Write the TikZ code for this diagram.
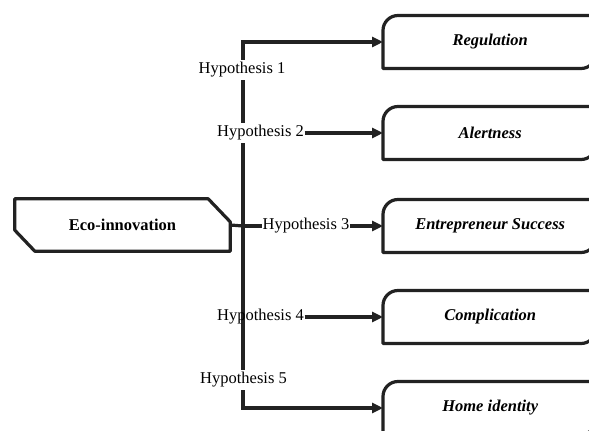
\documentclass[tikz,border=0pt]{standalone}
\usepackage{fontspec}
\setmainfont{Liberation Serif}
\usetikzlibrary{arrows.meta}
\definecolor{ink}{HTML}{222222}
\tikzset{
  boxline/.style={draw=ink, line width=3.2pt, line join=round},
  conn/.style={draw=ink, line width=3.2pt},
  arr/.style={conn, -{Triangle[length=11pt,width=10pt]}},
  outtext/.style={inner sep=0pt, minimum width=214pt, minimum height=53pt,
    font=\fontsize{16.5}{18}\selectfont\bfseries\itshape, text=black},
  hyp/.style={inner sep=0.6pt, font=\fontsize{16.5}{18}\selectfont, text=black},
  hypw/.style={hyp, fill=white, inner ysep=2pt},
}
\newcommand\outbox[3]{%
  \draw[boxline] (383,#2-26.5) -- (383,#2+11.5) arc[start angle=180,end angle=90,radius=15]
    -- (596,#2+26.5) -- (596,#2-11.5) arc[start angle=0,end angle=-90,radius=15] -- cycle;
  \node[outtext, anchor=west] (#1) at (383,#2) {#3};}
\begin{document}
\begin{tikzpicture}[x=1pt,y=1pt]
\useasboundingbox (0,0) rectangle (589,431);
\clip (0,0) rectangle (589,431);
\fill[white] (0,0) rectangle (589,431);
% left box
\node[inner sep=0pt, minimum width=215pt, minimum height=52pt,
  font=\fontsize{16.5}{18}\selectfont\bfseries] (eco) at (122.5,206) {Eco-innovation};
\draw[boxline] (eco.north west) -- ([xshift=-22pt]eco.north east) -- ([yshift=-23pt]eco.north east)
  -- (eco.south east) -- ([xshift=20pt]eco.south west) -- ([yshift=21pt]eco.south west) -- cycle;
% right boxes
\outbox{reg}{389}{Regulation}
\outbox{ale}{298}{Alertness}
\outbox{ent}{205}{Entrepreneur Success}
\outbox{com}{114}{Complication}
\outbox{hom}{23}{Home identity}
% trunk
\coordinate (top) at (243,389);
\coordinate (bot) at (243,23);
\draw[conn, line cap=butt] (top) -- (bot);
\draw[conn] (eco.east) -- (243,205);
% labels
\node[hypw] (h1) at (242,361) {Hypothesis 1};
\node[hypw] (h2) at (260.5,298) {Hypothesis 2};
\node[hyp, fill=white] (h3) at (306,205) {Hypothesis 3};
\node[hyp] (h4) at (260.5,114) {Hypothesis 4};
\node[hypw] (h5) at (243.5,51) {Hypothesis 5};
% connectors
\draw[arr] ([xshift=-1.6pt]top) -- (reg.west);
\draw[arr] ([xshift=-1.6pt]bot) -- (hom.west);
\draw[arr] (h2.east) -- (ale.west);
\draw[conn] (243,205) -- (h3.west);
\draw[arr] (h3.east) -- (ent.west);
\draw[arr] (h4.east) -- (com.west);
\end{tikzpicture}
\end{document}
